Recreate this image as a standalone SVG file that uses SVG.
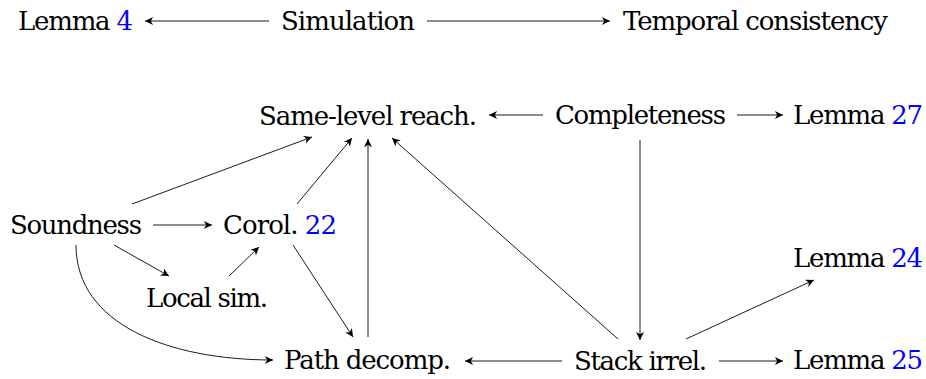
<svg xmlns="http://www.w3.org/2000/svg" width="926" height="379" viewBox="0 0 926 379">
<style>
text{font-family:"DejaVu Serif","Liberation Serif",serif;font-size:26px;fill:#000}
.n{fill:#0000ff}
.e{fill:none;stroke:#000;stroke-width:0.9;marker-end:url(#ah)}
.l{fill:none;stroke:#000;stroke-width:0.9}
</style>
<defs>
<marker id="ah" markerUnits="userSpaceOnUse" markerWidth="10" markerHeight="10" viewBox="-7 -4 8 8" refX="0" refY="0" orient="auto">
<path d="M0,0 L-6.5,-3.2 L-4.6,0 L-6.5,3.2 Z" fill="#000"/>
</marker>
</defs>
<rect width="926" height="379" fill="#fff"/>
<g id="edges">
<line class="e" x1="269" y1="21" x2="145" y2="21"/>
<line class="e" x1="427" y1="21" x2="610" y2="21"/>
<line class="e" x1="543" y1="115" x2="489" y2="115"/>
<line class="e" x1="737" y1="115" x2="783" y2="115"/>
<line class="e" x1="640" y1="140" x2="640" y2="340"/>
<line class="e" x1="132" y1="204" x2="312" y2="137"/>
<line class="e" x1="297" y1="204" x2="352" y2="138"/>
<line class="e" x1="368" y1="337" x2="368" y2="139"/>
<line class="e" x1="618" y1="339" x2="392" y2="138"/>
<line class="e" x1="153" y1="225" x2="212" y2="225"/>
<line class="e" x1="114" y1="245" x2="169" y2="276"/>
<line class="e" x1="229" y1="276" x2="259" y2="247"/>
<line class="e" x1="293" y1="245" x2="353" y2="337"/>
<path class="e" d="M76,245 C76,325 170,360 273,360"/>
<line class="e" x1="562" y1="361" x2="465" y2="361"/>
<line class="e" x1="719" y1="361" x2="783" y2="361"/>
<line class="e" x1="686" y1="339" x2="814" y2="280"/>
</g>
<g id="lemma4"><text x="18" y="30" textLength="115">Lemma <tspan class="n">4</tspan></text></g>
<g id="simulation"><text x="281" y="30" textLength="134">Simulation</text></g>
<g id="temporal"><text x="623" y="30" textLength="265">Temporal consistency</text></g>
<g id="samelevel"><text x="259" y="125" textLength="218">Same-level reach.</text></g>
<g id="completeness"><text x="555" y="124" textLength="171">Completeness</text></g>
<g id="lemma27"><text x="793" y="124" textLength="130">Lemma <tspan class="n">27</tspan></text></g>
<g id="soundness"><text x="10" y="234" textLength="132">Soundness</text></g>
<g id="corol22"><text x="223" y="234" textLength="114">Corol. <tspan class="n">22</tspan></text></g>
<g id="localsim"><text x="146" y="307" textLength="122">Local sim.</text></g>
<g id="lemma24"><text x="793" y="267" textLength="130">Lemma <tspan class="n">24</tspan></text></g>
<g id="pathdecomp"><text x="284" y="369" textLength="167">Path decomp.</text></g>
<g id="stackirrel"><text x="574" y="370" textLength="133">Stack irrel.</text></g>
<g id="lemma25"><text x="793" y="369" textLength="130">Lemma <tspan class="n">25</tspan></text></g>
</svg>
